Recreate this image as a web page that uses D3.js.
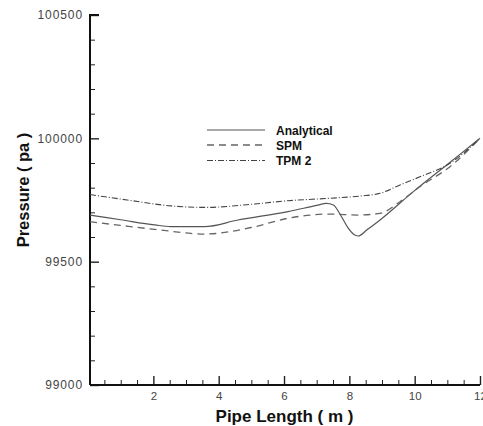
<!DOCTYPE html>
<html><head><meta charset="utf-8">
<script src="https://cdn.jsdelivr.net/npm/d3@7"></script>
<style>
html,body{margin:0;padding:0;background:#fff;}
svg{display:block;}
</style></head>
<body>
<svg id="chart" width="483" height="426"></svg>
<script>
// Data
const seriesNames = ["Analytical", "SPM", "TPM 2"];
const analyticalX = [0.06, 1.0, 2.04, 2.54, 3.57, 4.59, 6.12, 7.0, 7.3, 7.51, 7.76, 7.97, 8.12, 8.27, 8.53, 8.94, 9.96, 10.98, 12];
const analyticalY = [99689, 99670, 99649, 99642, 99642, 99669, 99703, 99728, 99736, 99730, 99682, 99635, 99612, 99604, 99628, 99669, 99784, 99892, 100000];
const spmX = [0.06, 1.0, 2.04, 3.58, 5.11, 6.12, 7.41, 8.26, 8.94, 9.55, 10.16, 11.08, 12];
const spmY = [99662, 99647, 99631, 99612, 99642, 99676, 99693, 99689, 99696, 99743, 99804, 99885, 100000];
const tpmX = [0.06, 1.2, 2.54, 3.58, 5.11, 6.12, 7.41, 8.33, 8.94, 9.55, 10.16, 11.08, 12];
const tpmY = [99772, 99750, 99726, 99720, 99734, 99747, 99757, 99766, 99777, 99811, 99844, 99899, 100000];
const xTicks = [2, 4, 6, 8, 10, 12];
const yTicks = [99000, 99500, 100000, 100500];

const FONT = "Liberation Sans, Arial, sans-serif";
const svg = d3.select("#chart");
const x = d3.scaleLinear().domain([0.06, 12]).range([90, 480]);
const y = d3.scaleLinear().domain([99000, 100500]).range([385, 15]);

// minor ticks
const xMinor = d3.range(0.5, 12.01, 0.5).filter(v => xTicks.indexOf(v) < 0);
const yMinor = d3.range(99100, 100500, 100).filter(v => yTicks.indexOf(v) < 0);

const gx = svg.append("g").attr("transform", "translate(0,385)");
gx.call(d3.axisBottom(x).tickValues(xMinor).tickSize(-5).tickFormat(""));
gx.selectAll(".tick line").attr("stroke", "#222").attr("stroke-width", 1);
const gx2 = svg.append("g").attr("transform", "translate(0,385)");
gx2.call(d3.axisBottom(x).tickValues(xTicks).tickSize(-9).tickPadding(7).tickFormat(d3.format("d")));
gx2.selectAll(".tick line").attr("stroke", "#222").attr("stroke-width", 1.4);
gx2.selectAll(".tick text").attr("fill", "#444").style("font-family", FONT).style("font-size", "11.5px");

const gy = svg.append("g").attr("transform", "translate(90,0)");
gy.call(d3.axisLeft(y).tickValues(yMinor).tickSize(-5).tickFormat(""));
gy.selectAll(".tick line").attr("stroke", "#222").attr("stroke-width", 1);
const gy2 = svg.append("g").attr("transform", "translate(90,0)");
gy2.call(d3.axisLeft(y).tickValues(yTicks).tickSize(-9).tickPadding(7).tickFormat(d3.format("d")));
gy2.selectAll(".tick line").attr("stroke", "#222").attr("stroke-width", 1.4);
gy2.selectAll(".tick text").attr("fill", "#444").style("font-family", FONT).style("font-size", "12px").style("letter-spacing", "0.9px");
svg.selectAll(".domain").remove();

// axis lines
svg.append("line").attr("x1", x(0.06)).attr("x2", x(0.06)).attr("y1", y(100500)).attr("y2", y(99000)).attr("stroke", "#111").attr("stroke-width", 2);
svg.append("line").attr("x1", x(0.06)).attr("x2", x(12)).attr("y1", y(99000)).attr("y2", y(99000)).attr("stroke", "#111").attr("stroke-width", 2);
svg.append("line").attr("x1", x(0.06) - 1).attr("x2", x(0.06) + 9).attr("y1", y(100500)).attr("y2", y(100500)).attr("stroke", "#111").attr("stroke-width", 2);

const styles = [
  {color: "#555", dash: null, w: 1.2},
  {color: "#666", dash: "7,5", w: 1.3},
  {color: "#444", dash: "6,2,1,2", w: 1.1}
];
const data = [
  d3.zip(analyticalX, analyticalY),
  d3.zip(spmX, spmY),
  d3.zip(tpmX, tpmY)
];
const line = d3.line().x(d => x(d[0])).y(d => y(d[1])).curve(d3.curveMonotoneX);
data.forEach((d, i) => {
  svg.append("path").datum(d).attr("d", line).attr("fill", "none")
    .attr("stroke", styles[i].color).attr("stroke-width", styles[i].w)
    .attr("stroke-dasharray", styles[i].dash);
});

// legend
const legY = [130, 145, 160.5];
seriesNames.forEach((n, i) => {
  svg.append("line").attr("x1", 207).attr("x2", 265).attr("y1", legY[i]).attr("y2", legY[i])
    .attr("stroke", styles[i].color).attr("stroke-width", styles[i].w).attr("stroke-dasharray", styles[i].dash);
  svg.append("text").attr("x", 276).attr("y", legY[i] + 4.5).text(n)
    .style("font-family", FONT).style("font-weight", "bold").style("font-size", "12px").attr("fill", "#111");
});

// axis titles
svg.append("text").attr("x", 284.5).attr("y", 422).attr("text-anchor", "middle").text("Pipe Length ( m )")
  .style("font-family", FONT).style("font-weight", "bold").style("font-size", "17px").attr("fill", "#111");
svg.append("text").attr("transform", "translate(29,190) rotate(-90)").attr("text-anchor", "middle").text("Pressure ( pa )")
  .style("font-family", FONT).style("font-weight", "bold").style("font-size", "16.5px").attr("fill", "#111");
</script>
</body></html>
